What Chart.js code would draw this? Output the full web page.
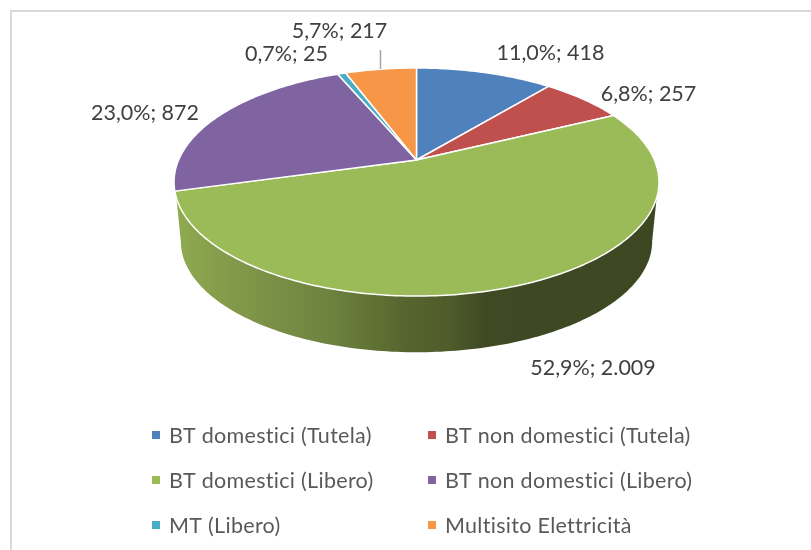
<!DOCTYPE html>
<html>
<head>
<meta charset="utf-8">
<style>html,body{margin:0;padding:0;background:#fff}canvas{display:block}</style>
<script src="https://cdn.jsdelivr.net/npm/chart.js@4/dist/chart.umd.min.js"></script>
</head>
<body>
<canvas id="c" width="811" height="550"></canvas>
<script>
const categories = ['BT domestici (Tutela)','BT non domestici (Tutela)','BT domestici (Libero)','BT non domestici (Libero)','MT (Libero)','Multisito Elettricità'];
const values = [418,257,2009,872,25,217];
const colors = ['#4f81bd','#c0504d','#9bbb59','#8064a2','#4bacc6','#f79646'];

const FONT = 'Lato, "Open Sans", sans-serif';
const labelCenters = [[550.5,53],[648.5,94],[593,368],[145,113],[286.5,54],[339.5,31]];
const legendCols = [152,428];
const legendRows = [435,480,525];

// perspective view of the pie's top plane
const K = 0.193, SX = 237.9/160, SY = 109.8/160;
function project(el, a, s, dy){
  s = s===undefined?1:s; dy = dy||0;
  const u = Math.cos(a), v = Math.sin(a), w = 1 - K*v;
  return [el.x + s*SX*el.outerRadius*u/w, el.y + dy + s*SY*el.outerRadius*v/w];
}
function fmtLabel(i){
  const tot = values.reduce((p,c)=>p+c,0);
  const pct = (values[i]/tot*100).toFixed(1).replace('.',',');
  const val = String(values[i]).replace(/\B(?=(\d{3})+$)/g,'.');
  return pct+'%; '+val;
}
const pie3d = {
  id:'pie3d',
  beforeDraw(chart){
    const c = chart.ctx;
    c.save();
    c.fillStyle='#fff'; c.fillRect(0,0,chart.width,chart.height);
    c.fillStyle='#d9d9d9';
    c.fillRect(10,10,chart.width-10,2);
    c.fillRect(10,10,2,chart.height-10);
    c.restore();
  },
  beforeDatasetDraw(chart,args){
    const c = chart.ctx, arcs = chart.getDatasetMeta(args.index).data, first = arcs[0];
    c.save();
    // side wall (only the front-facing large slice shows)
    const a0 = 0.155, a1 = Math.PI-0.155, n = 160;
    const sLow = 0.972, dLow = 60;
    const g = c.createLinearGradient(175,0,659,0);
    g.addColorStop(0,'#8fab50');
    g.addColorStop(0.12,'#83994a');
    g.addColorStop(0.33,'#6c813d');
    g.addColorStop(0.47,'#57652f');
    g.addColorStop(0.56,'#505d2b');
    g.addColorStop(0.64,'#3f4a24');
    g.addColorStop(1,'#3d4822');
    c.beginPath();
    for(let i=0;i<=n;i++){const p=project(first,a0+(a1-a0)*i/n); i?c.lineTo(p[0],p[1]):c.moveTo(p[0],p[1]);}
    const b0 = 0.19, b1 = Math.PI-0.19;
    for(let i=n;i>=0;i--){const p=project(first,b0+(b1-b0)*i/n,sLow,dLow); c.lineTo(p[0],p[1]);}
    c.closePath(); c.fillStyle=g; c.fill();
    // top face
    arcs.forEach((el,i)=>{
      c.beginPath();
      c.moveTo(el.x,el.y);
      const m = Math.max(4,Math.ceil((el.endAngle-el.startAngle)*60));
      for(let k=0;k<=m;k++){
        const p = project(el, el.startAngle+(el.endAngle-el.startAngle)*k/m);
        c.lineTo(p[0],p[1]);
      }
      c.closePath();
      c.fillStyle = colors[i]; c.fill();
      c.strokeStyle='#fff'; c.lineWidth=1.5; c.lineJoin='round'; c.stroke();
    });
    c.restore();
    return false;
  },
  afterDraw(chart){
    const c = chart.ctx;
    c.save();
    // leader line
    c.strokeStyle='#a6a6a6'; c.lineWidth=1.5;
    c.beginPath(); c.moveTo(380.5,50); c.lineTo(380.5,69); c.stroke();
    // data labels
    c.font = '21.5px '+FONT; c.fillStyle='#404040'; c.textAlign='center'; c.textBaseline='middle';
    values.forEach((v,i)=>c.fillText(fmtLabel(i),labelCenters[i][0],labelCenters[i][1]));
    // legend
    c.font = '21.5px '+FONT; c.letterSpacing='0.3px'; c.textAlign='left';
    categories.forEach((t,i)=>{
      const x = legendCols[i%2], y = legendRows[Math.floor(i/2)];
      c.fillStyle=colors[i]; c.fillRect(x,y-4,8,8);
      c.fillStyle='#595959'; c.fillText(t,x+17,y+1);
    });
    c.restore();
  }
};
new Chart(document.getElementById('c'),{
  type:'pie',
  data:{labels:categories,datasets:[{data:values,backgroundColor:colors,borderWidth:0}]},
  options:{
    responsive:false,animation:false,events:[],
    layout:{padding:{left:256.5,right:234.5,top:0,bottom:230}},
    plugins:{legend:{display:false},tooltip:{enabled:false}}
  },
  plugins:[pie3d]
});
</script>
</body>
</html>
